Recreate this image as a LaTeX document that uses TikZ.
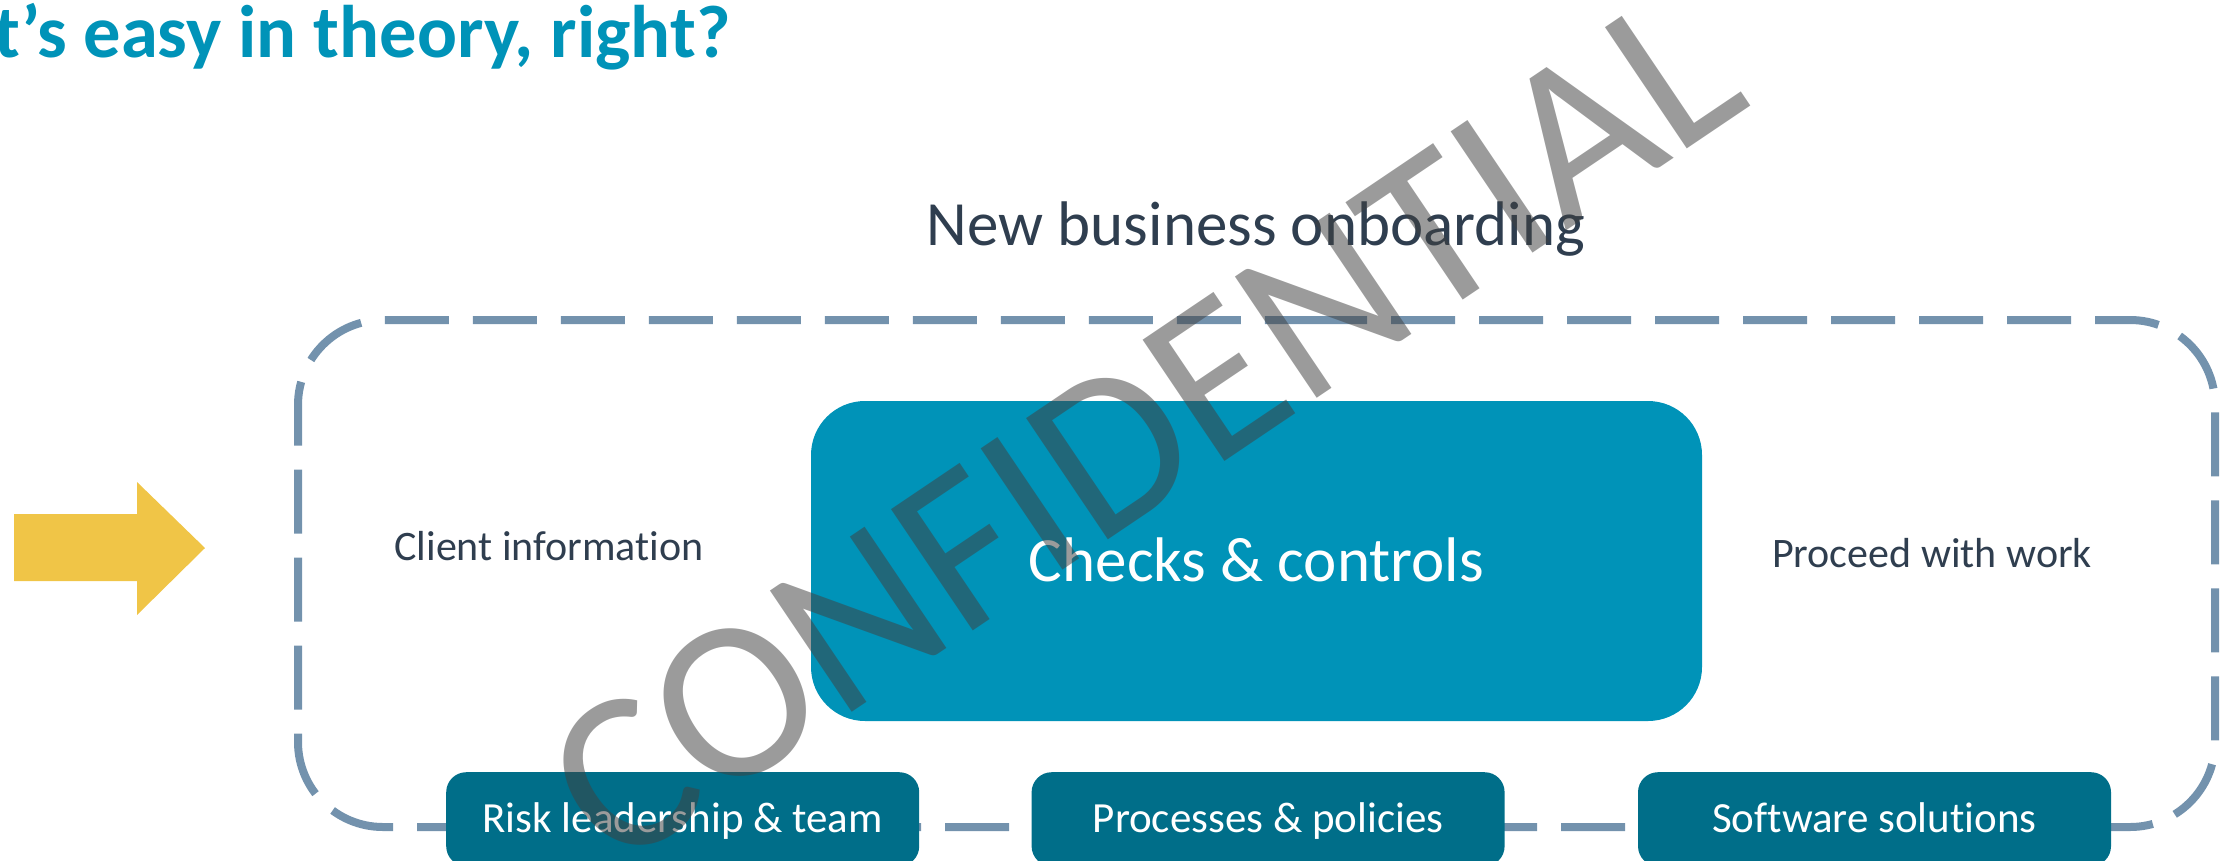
\documentclass[tikz,border=0pt]{standalone}
\usepackage{fontspec}
\setmainfont{Carlito}[Ligatures=NoCommon]
\usepackage{xcolor}
\usepackage{tikz}
\usetikzlibrary{positioning}
\definecolor{onbBlue}{HTML}{0093B8}
\definecolor{onbTeal}{HTML}{006E89}
\definecolor{onbFrame}{HTML}{7392AD}
\definecolor{onbInk}{HTML}{2F3E4F}
\definecolor{onbGold}{HTML}{F0C547}
\definecolor{onbMark}{HTML}{404040}
\tikzset{
  onbcore/.style={rounded corners=54pt, fill=onbBlue, text=white, inner sep=0pt,
                  minimum width=891pt, minimum height=320pt,
                  font=\fontsize{63}{70}\selectfont, text height=40pt, text depth=0pt},
  onbpillar/.style={rounded corners=20pt, fill=onbTeal, text=white, inner sep=0pt,
                  minimum width=473pt, minimum height=94pt,
                  font=\fontsize{43}{50}\selectfont, text height=27pt, text depth=0pt},
  onblabel/.style={text=onbInk, inner sep=0pt, font=\fontsize{42}{50}\selectfont,
                  text height=26.5pt, text depth=0pt},
  onbframe/.style={draw=onbFrame, line width=8pt, dash pattern=on 64pt off 24pt,
                  rounded corners=85pt},
  onbmark/.style={text=onbMark, text opacity=0.52, inner sep=0pt,
                  font=\fontsize{228}{240}\selectfont},
}
\begin{document}
\begin{tikzpicture}[x=1pt, y=-1pt]
    \useasboundingbox (0,0) rectangle (2221,860);
    \node[text=onbBlue, inner sep=0pt, anchor=base west,
          font=\fontsize{74.5}{80}\selectfont\bfseries] (headline) at (-6,57) {t’s easy in theory, right?};
    \fill[onbGold] (14,514) -- (137,514) -- (137,482) -- (205,548)
        -- (137,615) -- (137,581) -- (14,581) -- cycle;
    \draw[onbframe] (1218,320) -- (2215,320) -- (2215,827) -- (298,827) -- (298,320) -- cycle;
    \node[onblabel, font=\fontsize{63}{70}\selectfont, text height=40pt] (stage) at (1256,225) {New business onboarding};
    \node[onbcore] (checks) at (1256.5,561) {Checks \& controls};
    \node[onblabel] (client) at (549,547) {Client information};
    \node[onblabel] (proceed) at (1932,554) {Proceed with work};
    \node[onbpillar, anchor=north west] (risk) at (446,772) {Risk leadership \& team};
    \node[onbpillar, right=112pt of risk] (procs) {Processes \& policies};
    \node[onbpillar, right=133pt of procs] (soft) {Software solutions};
    \node[onbmark, anchor=base west, rotate=34] (stamp) at (614,873) {CONFIDENTIAL};
\end{tikzpicture}
\end{document}
